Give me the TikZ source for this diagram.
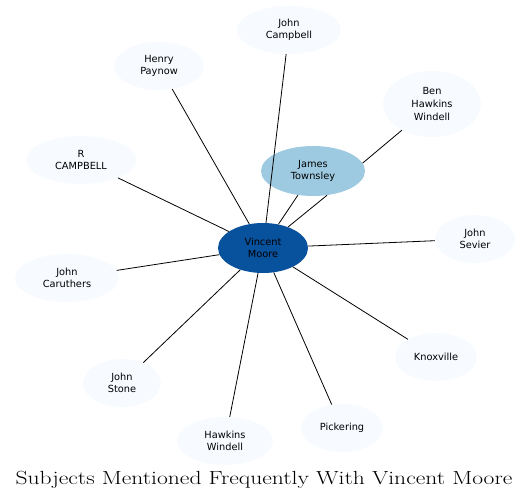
\documentclass[tikz,border=0pt]{standalone}
\usepackage{fontspec}
\newfontfamily\labelfont{DejaVu Sans}
\usetikzlibrary{shapes.geometric}
\definecolor{hubblue}{HTML}{08519C}
\definecolor{midblue}{HTML}{9ECAE1}
\definecolor{paleblue}{HTML}{F7FBFF}

\begin{document}
\begin{tikzpicture}[x=1pt, y=-1pt, every node/.style={font=\labelfont\fontsize{9.8}{12.5}\selectfont}, subj/.style={ellipse,fill=paleblue,minimum height=48pt,inner sep=0pt,align=center}, link/.style={draw=black,line width=0.8pt}]
\useasboundingbox (0,0) rectangle (529,502);
% nodes
\node[subj,fill=hubblue,minimum width=90pt,minimum height=50pt] (vm) at (263,248) {Vincent\\Moore};
\node[subj,fill=midblue,minimum width=104pt,minimum height=50pt] (jt) at (313,171) {James\\Townsley};
\node[subj,minimum width=104pt] (jc) at (289,30) {John\\Campbell};
\node[subj,minimum width=90pt] (hp) at (159,66) {Henry\\Paynow};
\node[subj,minimum width=98pt,minimum height=66pt] (bhw) at (432,104) {Ben\\Hawkins\\Windell};
\node[subj,minimum width=110pt] (rc) at (81,160) {R\\CAMPBELL};
\node[subj,minimum width=80pt] (js) at (475,239) {John\\Sevier};
\node[subj,minimum width=104pt] (jca) at (67,278) {John\\Caruthers};
\node[subj,minimum width=82pt] (kx) at (436,357) {Knoxville};
\node[subj,minimum width=78pt] (jst) at (122,383) {John\\Stone};
\node[subj,minimum width=96pt] (hw) at (225,441) {Hawkins\\Windell};
\node[subj,minimum width=82pt] (pk) at (342,428) {Pickering};
% links
\foreach \n in {jc,hp,rc,js,jca,kx,jst,hw,pk}
  \draw[link] (vm) -- (\n);
\draw[link] (vm.57) -- (jt.238);
\draw[link] (vm.40) -- (jt.300);
\draw[link] (jt.9) -- (bhw.221);
% title
\node[font=\fontsize{19}{22}\selectfont,xscale=1.24] (title) at (264,480) {Subjects Mentioned Frequently With Vincent Moore};
\end{tikzpicture}
\end{document}
